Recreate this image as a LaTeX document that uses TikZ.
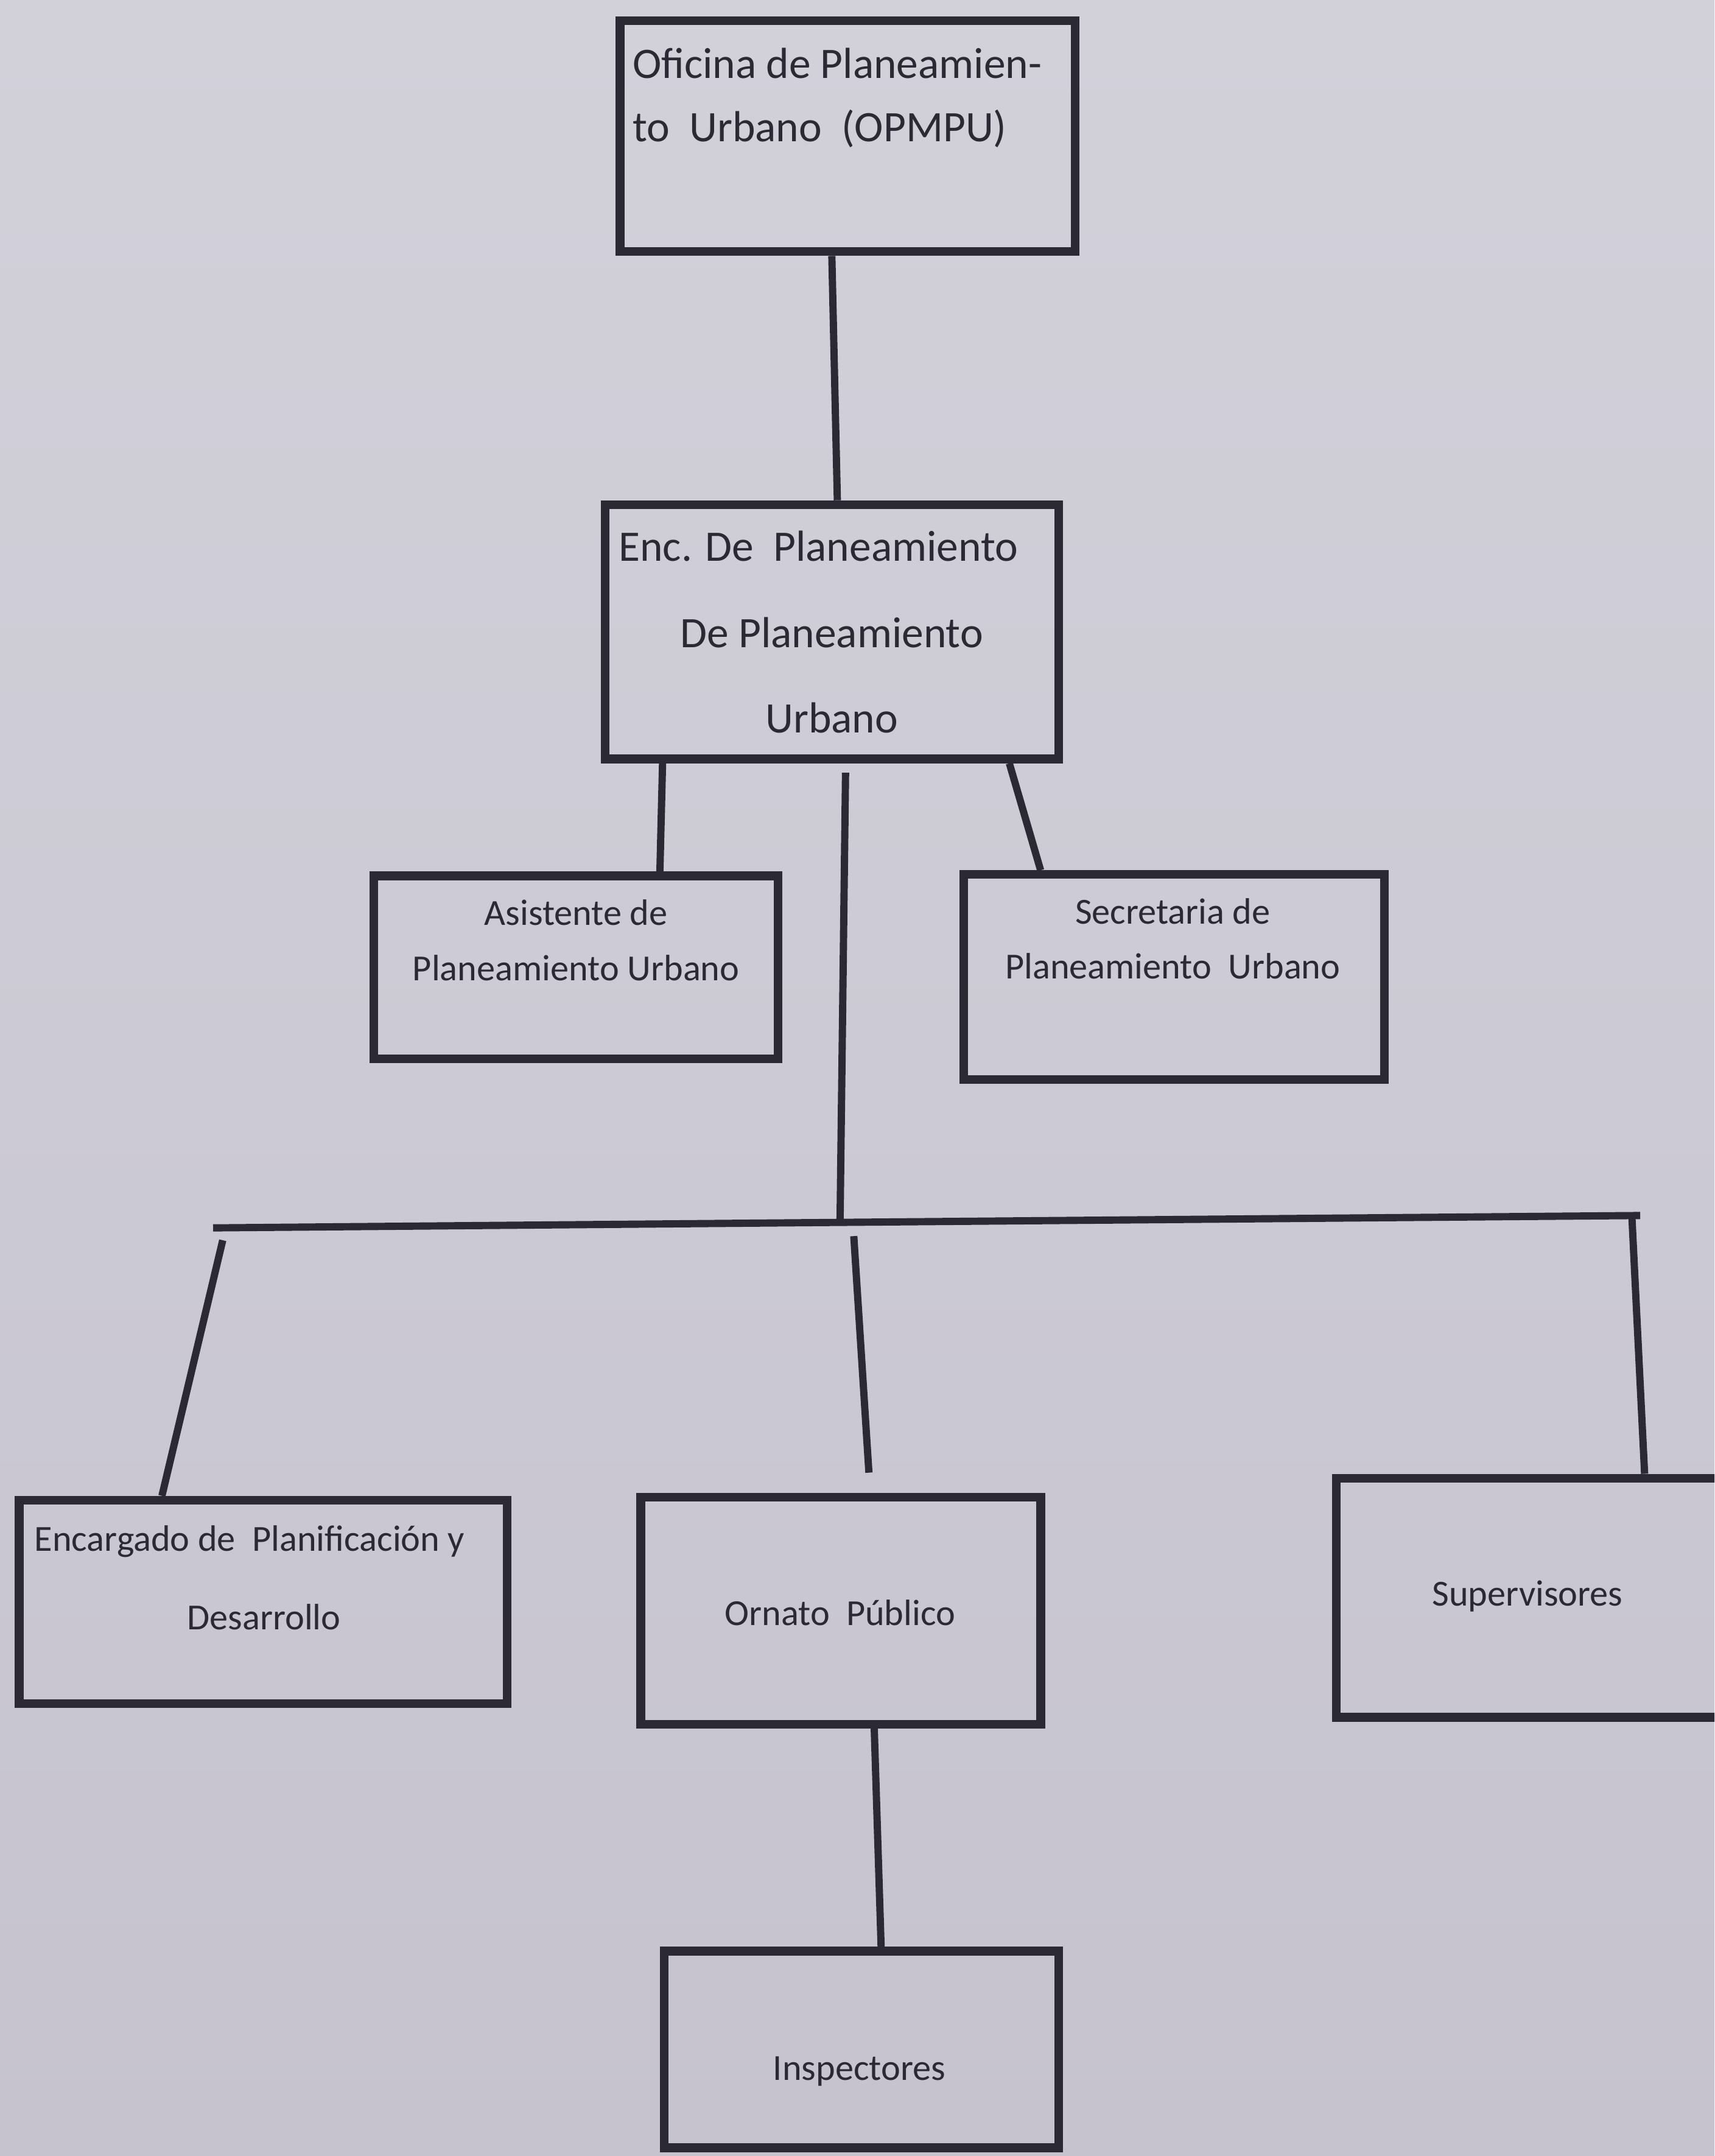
\documentclass[tikz,border=0pt]{standalone}
\usepackage{fontspec}
\setmainfont{Carlito}
\usetikzlibrary{fit,calc}
\definecolor{paper}{RGB}{203,201,211}
\definecolor{papertop}{RGB}{210,209,218}
\definecolor{paperbot}{RGB}{198,195,206}
\definecolor{ink}{RGB}{42,41,52}
\begin{document}
\begin{tikzpicture}[x=0.5mm,y=-0.5mm,
  box/.style={draw=ink, line width=9pt, inner sep=0pt, rectangle},
  conn/.style={draw=ink, line width=7.5pt},
  big/.style={text=ink, font=\fontsize{45pt}{54pt}\selectfont, inner sep=0pt},
  small/.style={text=ink, font=\fontsize{38pt}{46pt}\selectfont, inner sep=0pt}]
\shade[top color=papertop, bottom color=paperbot] (0,0) rectangle (1247,1568);
\useasboundingbox (0,0) rectangle (1247,1568);
\clip (0,0) rectangle (1247,1568);

% boxes
\node[box, fit={(451,15) (782,183)}] (opmpu) {};
\node[box, fit={(440,367) (770,552)}] (enc) {};
\node[box, fit={(272,637) (566,770)}] (asist) {};
\node[box, fit={(701,636) (1007,785)}] (secr) {};
\node[box, fit={(14,1091) (369,1239)}] (encpd) {};
\node[box, fit={(466,1089) (757,1254)}] (ornato) {};
\node[box, fit={(972,1075) (1290,1249)}] (superv) {};
\node[box, fit={(483,1419) (770,1562)}] (insp) {};

% texts
\node[big, anchor=base west] (opmpuA) at (460,57) {Oficina de Planeamien-};
\node[big, anchor=base west] (opmpuB) at (460,103) {to\ \ Urbano\ \ (OPMPU)};
\node[big, anchor=base west] (encA) at (450,408) {Enc. De\ \ Planeamiento};
\node[big, anchor=base] (encB) at (605,471) {De Planeamiento};
\node[big, anchor=base] (encC) at (605,533) {Urbano};
\node[small, anchor=base] (asistA) at (419,673) {Asistente de};
\node[small, anchor=base] (asistB) at (419,713) {Planeamiento Urbano};
\node[small, anchor=base] (secrA) at (853,672) {Secretaria de};
\node[small, anchor=base] (secrB) at (853,712) {Planeamiento\ \ Urbano};
\node[small, anchor=base west] (encpdA) at (25,1128) {Encargado de\ \ Planificación y};
\node[small, anchor=base] (encpdB) at (192,1185) {Desarrollo};
\node[small, anchor=base] (ornatoA) at (611,1182) {Ornato\ \ Público};
\node[small, anchor=base] (supervA) at (1111,1168) {Supervisores};
\node[small, anchor=base] (inspA) at (625,1513) {Inspectores};

% connectors
\draw[conn] ($(opmpu.south west)!0.466!(opmpu.south east)$) -- ($(enc.north west)!0.512!(enc.north east)$);
\draw[conn] ($(enc.south west)!0.134!(enc.south east)$) -- ($(asist.north west)!0.703!(asist.north east)$);
\draw[conn] ($(enc.south west)!0.884!(enc.south east)$) -- ($(secr.north west)!0.189!(secr.north east)$);
\coordinate (vtop) at (615,562);
\coordinate (jn) at (611,889);
\draw[conn] (vtop) -- (jn);
\coordinate (hl) at (155,893);
\coordinate (hr) at (1193,884);
\draw[conn] (hl) -- (jn) -- (hr);
\coordinate (e1) at (162,902);
\draw[conn] (e1) -- ($(encpd.north west)!0.296!(encpd.north east)$);
\coordinate (o1) at (621,899);
\coordinate (o2) at (632,1071);
\draw[conn] (o1) -- (o2);
\coordinate (s1) at (1187,886);
\draw[conn] (s1) -- ($(superv.north west)!0.701!(superv.north east)$);
\draw[conn] ($(ornato.south west)!0.582!(ornato.south east)$) -- ($(insp.north west)!0.549!(insp.north east)$);
\end{tikzpicture}
\end{document}
